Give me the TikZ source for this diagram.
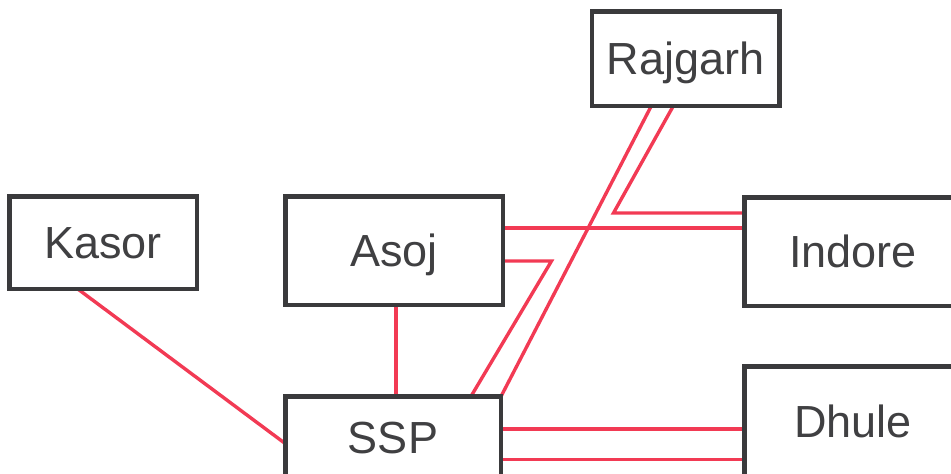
\documentclass[tikz,border=0pt]{standalone}
\usepackage{fontspec}
\setmainfont{Liberation Sans}
\usetikzlibrary{calc}
\definecolor{boxline}{RGB}{58,58,60}
\definecolor{boxtext}{RGB}{64,64,66}
\definecolor{link}{RGB}{242,58,84}
\begin{document}
\begin{tikzpicture}[x=1pt,y=-1pt,
  place/.style={draw=boxline, line width=3pt, fill=white, text=boxtext,
    font=\fontsize{45}{45}\selectfont, inner sep=0pt, anchor=center,
    text height=32pt, text depth=0pt},
  wire/.style={draw=link, line width=3.4pt}]
\useasboundingbox (0,0) rectangle (951,474);
\clip (0,0) rectangle (951,474);

% stations
\node[place, minimum width=186pt, minimum height=93pt] (Rajgarh) at (685.5,58.5) {Rajgarh};
\node[place, minimum width=186pt, minimum height=91pt] (Kasor) at (103,242.5) {Kasor};
\node[place, minimum width=216pt, minimum height=107pt] (Asoj) at (394,250.5) {Asoj};
\node[place, minimum width=216pt, minimum height=107pt] (Indore) at (853,251.5) {Indore};
\node[place, minimum width=214pt, minimum height=80pt] (SSP) at (393,437) {SSP};
\node[place, minimum width=216pt, minimum height=109pt] (Dhule) at (853,421.5) {Dhule};

% transmission links
\draw[wire] ($(Kasor.south west)+(70,0)$) -- ($(SSP.west)+(0,6)$);
\draw[wire] ($(Asoj.south)+(2,0)$) -- ($(SSP.north)+(3,0)$);
\draw[wire] ($(Rajgarh.south west)+(60,0)$) -- (SSP.north east);
\coordinate (bend) at ($(Indore.west)+(-130,-38.5)$);
\draw[wire] ($(Rajgarh.south west)+(82,0)$) -- (bend) -- (bend -| Indore.west);
\coordinate (asojA) at ($(Asoj.east)+(0,-22.5)$);
\draw[wire] (asojA) -- (asojA -| Indore.west);
\coordinate (asojB) at ($(Asoj.east)+(0,10.5)$);
\draw[wire] (asojB) -- ++(48,0) -- ($(SSP.north west)+(187,0)$);
\coordinate (sspA) at ($(SSP.east)+(0,-8)$);
\coordinate (sspB) at ($(SSP.east)+(0,22.5)$);
\draw[wire] (sspA) -- (sspA -| Dhule.west);
\draw[wire] (sspB) -- (sspB -| Dhule.west);

% box outlines drawn over the link ends
\foreach \n in {Rajgarh,Kasor,Asoj,Indore,SSP,Dhule}
  \draw[boxline, line width=3pt] (\n.north west) rectangle (\n.south east);
\end{tikzpicture}
\end{document}
